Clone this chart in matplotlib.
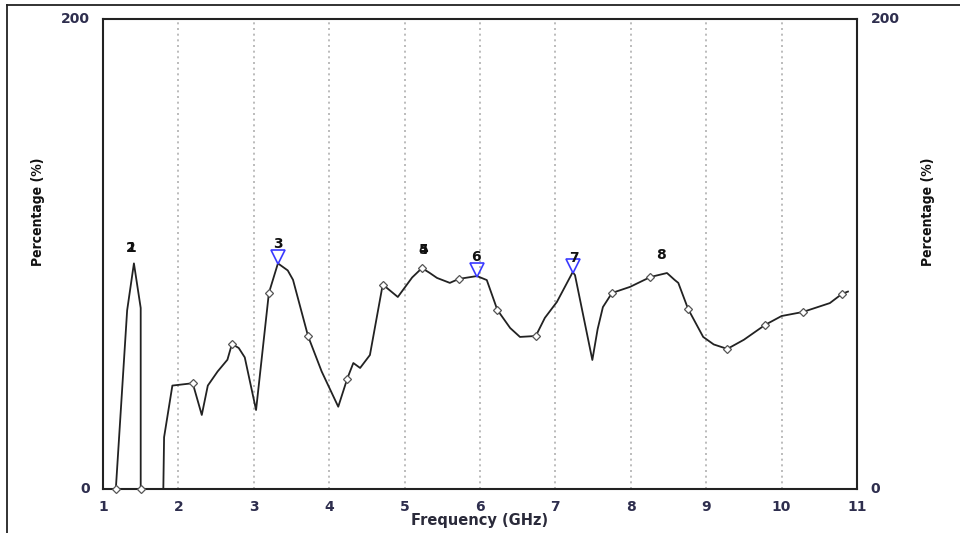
import matplotlib
matplotlib.use("Agg")
import matplotlib.pyplot as plt
from matplotlib.lines import Line2D

# Response curve, first band (narrow peak near 1.4 GHz)
freq_a = [1.17, 1.32, 1.41, 1.50, 1.50]
pct_a = [0, 76, 96, 77, 0]

# Response curve, second band (1.8 - 10.9 GHz)
freq_b = [1.80, 1.81, 1.92, 2.19, 2.31, 2.39, 2.52, 2.65, 2.71, 2.80, 2.88,
          3.03, 3.20, 3.32, 3.45, 3.52, 3.72, 3.90, 4.12, 4.24, 4.32, 4.41,
          4.54, 4.71, 4.91, 5.10, 5.23, 5.33, 5.43, 5.60, 5.72, 5.96, 6.09,
          6.23, 6.40, 6.53, 6.74, 6.86, 7.02, 7.23, 7.26, 7.49, 7.56, 7.63,
          7.75, 7.99, 8.26, 8.48, 8.58, 8.63, 8.76, 8.96, 9.10, 9.28, 9.50,
          9.78, 10.00, 10.28, 10.64, 10.80, 10.88]
pct_b = [0, 22, 44, 45, 31.5, 44, 50, 55, 61.7, 60, 56,
         33.6, 83.4, 96, 93, 89, 65, 50, 35, 47, 53.6, 51.5,
         57, 87, 81.7, 90, 94, 92, 89.8, 87.7, 89.4, 90.6, 88.9,
         76.2, 68.5, 64.7, 65.1, 72.8, 79.6, 92.3, 91, 54.9, 68, 77.4,
         83.4, 86, 90.2, 91.9, 89, 87.7, 76.6, 64.7, 61.5, 59.6, 63.5,
         69.8, 73.6, 75.3, 79.1, 83, 84]

# Sample points shown as small diamonds
sample_freq = [1.17, 1.50, 2.19, 2.71, 3.20, 3.72, 4.24, 4.71, 5.23, 5.72,
               6.23, 6.74, 7.75, 8.26, 8.76, 9.28, 9.78, 10.28, 10.80]
sample_pct = [0, 0, 45, 61.7, 83.4, 65, 47, 87, 94, 89.4,
              76.2, 65.1, 83.4, 90.2, 76.6, 59.6, 69.8, 75.3, 83]

# Peak markers (triangles) and their labels
peak_freq = [3.32, 5.96, 7.23]
peak_pct = [96, 90.6, 92.3]
label_text = ["1", "2", "3", "4", "5", "6", "7", "8"]
label_freq = [1.37, 1.37, 3.32, 5.25, 5.25, 5.95, 7.25, 8.40]
label_pct = [102.6, 102.6, 104.3, 101.7, 101.7, 98.7, 98.3, 99.6]

x_ticks = list(range(1, 12))
y_ticks = [0, 200]

tick_color = "#2e2e4e"

fig = plt.figure(figsize=(9.6, 5.33), dpi=100)
ax = fig.add_axes([0.1073, 0.0826, 0.7854, 0.8818])

ax.set_xlim(1, 11)
ax.set_ylim(0, 200)

for xv in x_ticks[1:-1]:
    ax.axvline(xv, color="#b0b0b0", linestyle=(0, (1.2, 2.2)), linewidth=1.2, zorder=0)

ax.plot(freq_a, pct_a, color="#222222", linewidth=1.3, zorder=2)
ax.plot(freq_b, pct_b, color="#222222", linewidth=1.3, zorder=2)
ax.plot(sample_freq, sample_pct, linestyle="none", marker="D", markersize=4,
        markerfacecolor="white", markeredgecolor="#555555", markeredgewidth=0.9,
        zorder=3, clip_on=False)

# Triangles sit just above each peak, apex on the curve
tri_offset = 2.6
ax.plot(peak_freq, [p + tri_offset for p in peak_pct], linestyle="none", marker="v",
        markersize=10, markerfacecolor="none", markeredgecolor="#3a3aff",
        markeredgewidth=1.2, zorder=4)

for t, fx, fy in zip(label_text, label_freq, label_pct):
    ax.text(fx, fy, t, ha="center", va="center", fontsize=10, fontweight="bold",
            color="#111111", family="DejaVu Sans", zorder=5)

for s in ax.spines.values():
    s.set_linewidth(1.5)
    s.set_color("#222222")

ax.set_xticks(x_ticks)
ax.set_xticklabels([str(v) for v in x_ticks], fontsize=10, fontweight="bold",
                   color=tick_color, family="DejaVu Sans")
ax.tick_params(axis="x", length=0, pad=8)
ax.set_yticks([])

# y tick labels on both sides, set apart from the frame
for yv in y_ticks:
    ax.text(-0.017, yv / 200.0, str(yv), transform=ax.transAxes, ha="right", va="center",
            fontsize=10, fontweight="bold", color=tick_color, family="DejaVu Sans")
    ax.text(1.018, yv / 200.0, str(yv), transform=ax.transAxes, ha="left", va="center",
            fontsize=10, fontweight="bold", color=tick_color, family="DejaVu Sans")

for xf in (0.040, 0.967):
    fig.text(xf, 0.602, "Percentage (%)", rotation=90, ha="center", va="center",
             fontsize=10, fontweight="bold", fontstretch="condensed",
             color="#111111", family="DejaVu Sans")
fig.text(0.50, 0.024, "Frequency (GHz)", ha="center", va="center",
         fontsize=10.5, fontweight="bold", color="#2a2a3a", family="DejaVu Sans")

# Outer window edges (left and top)
fig.add_artist(Line2D([0.0073, 0.0073], [0, 0.991], transform=fig.transFigure,
                      color="#222222", linewidth=1.3))
fig.add_artist(Line2D([0.0073, 1.0], [0.991, 0.991], transform=fig.transFigure,
                      color="#222222", linewidth=1.3))

fig.savefig("out.png", dpi=100)
